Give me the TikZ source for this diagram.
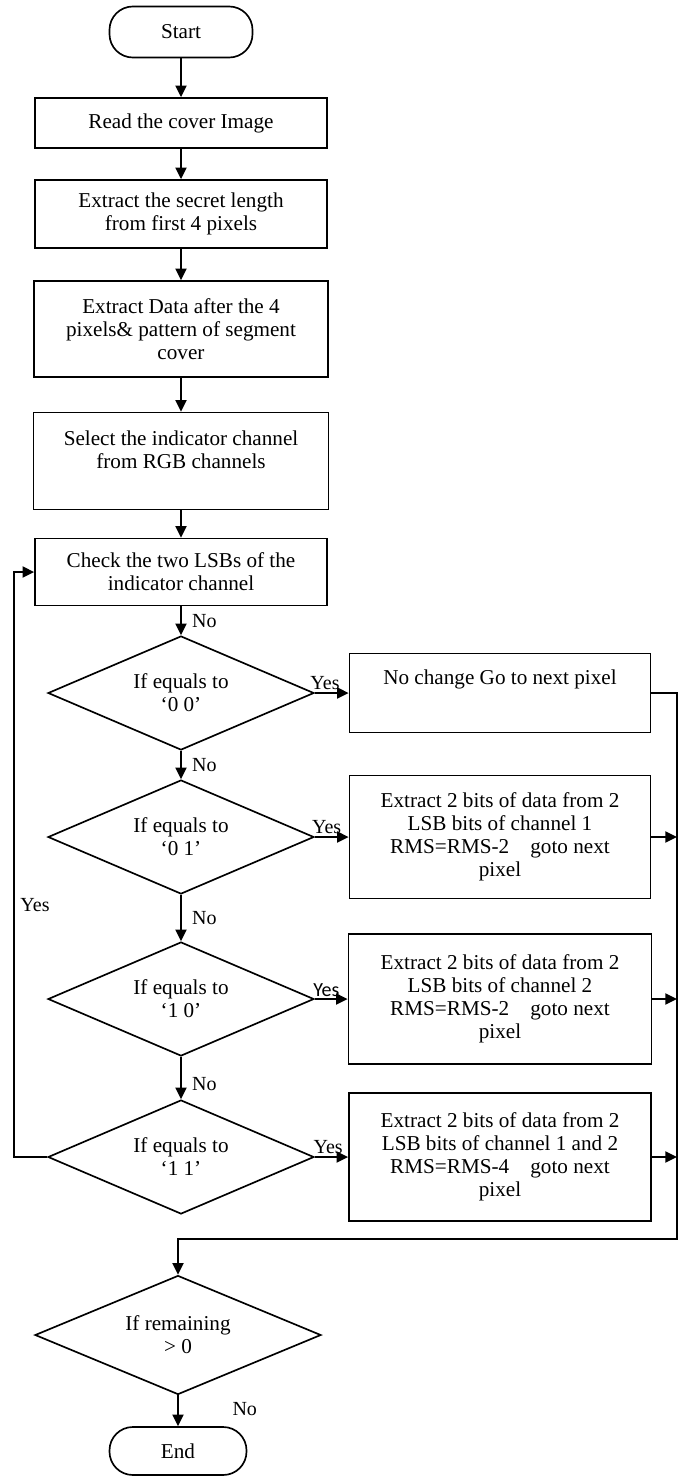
\documentclass[tikz,border=0pt]{standalone}
\usepackage{fontspec}
\setmainfont{Liberation Serif}
\newfontfamily\labelsans{Carlito}
\usetikzlibrary{shapes.geometric, arrows.meta}

\begin{document}
\begin{tikzpicture}[x=0.6pt, y=-0.6pt,
        every node/.style={font=\fontsize{12.7}{13.8}\selectfont, align=center},
        box/.style={rectangle, draw, line width=1pt, inner sep=0pt},
        term/.style={rectangle, draw, line width=1pt, rounded corners=14pt},
        cond/.style={diamond, draw, line width=1pt, aspect=2.4, inner sep=0pt},
        arr/.style={line width=1.4pt, -{Triangle[length=7pt, width=6.5pt]}},
        lbl/.style={font=\fontsize{12}{13}\selectfont, inner sep=0pt}]
        \useasboundingbox (0, 0) rectangle (681, 1476);

        % Nodes of the main column
        \node (1) [term, minimum width=85.8pt, minimum height=30.6pt] at (181, 32) {Start};
        \node (2) [box, minimum width=175.2pt, minimum height=30pt] at (181, 123) {Read the cover Image};
        \node (3) [box, minimum width=175.2pt, minimum height=40.8pt] at (181, 214) {Extract the secret length\\from first 4 pixels};
        \node (4) [box, minimum width=176.4pt, minimum height=57.6pt] at (181, 329) {Extract Data after the 4\\pixels\& pattern of segment\\cover};
        \node (5) [box, minimum width=177pt, minimum height=58.2pt] at (181, 461) {Select the indicator channel\\from RGB channels\\\mbox{}};
        \node (6) [box, minimum width=175.2pt, minimum height=40.2pt] at (181, 572) {Check the two LSBs of the\\indicator channel};

        % Decisions
        \node (7) [cond, minimum width=159.6pt, minimum height=68.4pt] at (181, 693) {If equals to\\‘0 0’};
        \node (9) [cond, minimum width=159.6pt, minimum height=68.4pt] at (181, 837) {If equals to\\‘0 1’};
        \node (11) [cond, minimum width=159.6pt, minimum height=68.4pt] at (181, 999) {If equals to\\‘1 0’};
        \node (13) [cond, minimum width=159.6pt, minimum height=68.4pt] at (181, 1157) {If equals to\\‘1 1’};
        \node (15) [cond, minimum width=171.6pt, minimum height=71.4pt] at (178, 1335) {If remaining\\> 0};
        \node (16) [term, minimum width=82.2pt, minimum height=28.8pt] at (178, 1451) {End};

        % Actions on the right
        \node (8) [box, minimum width=180.6pt, minimum height=47.4pt] at (500, 693) {No change Go to next pixel\\[5pt]\mbox{}};
        \node (10) [box, minimum width=180.6pt, minimum height=73.8pt] at (500, 837) {Extract 2 bits of data from 2\\LSB bits of channel 1\\RMS=RMS-2\quad goto next\\pixel};
        \node (12) [box, minimum width=181.8pt, minimum height=78pt] at (500, 999) {Extract 2 bits of data from 2\\LSB bits of channel 2\\RMS=RMS-2\quad goto next\\pixel};
        \node (14) [box, minimum width=181.2pt, minimum height=76.8pt] at (500, 1157) {Extract 2 bits of data from 2\\LSB bits of channel 1 and 2\\RMS=RMS-4\quad goto next\\pixel};

        \coordinate (r) at (677, 1239);
        \coordinate (l) at (14, 1157);

        % Edges
        \draw[arr] (1) -- (2);
        \draw[arr] (2) -- (3);
        \draw[arr] (3) -- (4);
        \draw[arr] (4) -- (5);
        \draw[arr] (5) -- (6);
        \draw[arr] (6) -- node[lbl, right=6pt] (n1) {No} (7);
        \draw[arr] (7) -- node[lbl, right=6pt] (n2) {No} (9);
        \draw[arr] (9) -- node[lbl, right=6pt] (n3) {No} (11);
        \draw[arr] (11) -- node[lbl, right=6pt, pos=0.65] (n4) {No} (13);
        \draw[arr] (15) -- node[lbl, right=32pt, pos=0.45] (n5) {No} (16);

        \draw[arr] (7) -- node[lbl, above=1pt, pos=0.3] (y1) {Yes} (8);
        \draw[arr] (9) -- node[lbl, above=1pt, pos=0.35] (y2) {Yes} (10);
        \draw[arr] (11) -- node[lbl, above=1pt, pos=0.35] (y3) {\labelsans Yes} (12);
        \draw[arr] (13) -- node[lbl, above=1pt, pos=0.4] (y4) {Yes} (14);

        \draw[arr] (8) -| (r) -| (15);
        \draw[arr] (10) -- (10 -| r);
        \draw[arr] (12) -- (12 -| r);
        \draw[arr] (14) -- (14 -| r);

        \draw[arr] (13) -- (l) |- (6);
        \node (y5) [lbl] at (35, 905) {Yes};
    
    \end{tikzpicture}
\end{document}
